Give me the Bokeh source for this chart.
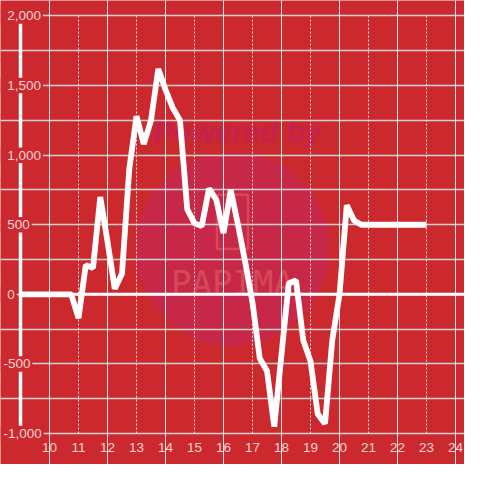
from bokeh.plotting import figure
from bokeh.models import Range1d, FixedTicker, Grid, LabelSet, ColumnDataSource
from bokeh.core.properties import value
from bokeh.embed import file_html
from bokeh.resources import INLINE

# ---- data ----
hours = [9.0, 10.75, 11.0, 11.25, 11.5, 11.75, 12.0, 12.25, 12.5, 12.75, 13.0, 13.25,
         13.5, 13.75, 14.0, 14.25, 14.5, 14.75, 15.0, 15.25, 15.5, 15.75, 16.0, 16.25,
         16.5, 16.75, 17.0, 17.25, 17.5, 17.75, 18.0, 18.25, 18.5, 18.75, 19.0, 19.25,
         19.5, 19.75, 20.0, 20.25, 20.5, 20.75, 23.0]
values = [0, 0, -170, 210, 190, 700, 380, 40, 150, 900, 1280, 1080,
          1250, 1620, 1470, 1340, 1250, 610, 510, 490, 760, 680, 440, 750,
          500, 230, -60, -460, -550, -950, -430, 80, 100, -330, -480, -860,
          -930, -330, 0, 640, 530, 500, 500]

x_ticks = list(range(10, 25))
x_labels = [str(t) for t in x_ticks]
y_grid_ticks = list(range(-1000, 2001, 250))
y_label_values = [-1000, -500, 0, 500, 1000, 1500, 2000]
y_labels = ["-1,000", "-500", "0", "500", "1,000", "1,500", "2,000"]

# ---- style ----
BG = "#cc292e"
LABEL = "#f3d3d4"
GRID = "#d2d2d2"
FONT = "Liberation Sans"
FS = 13.5
W = H = 464
S = W / 480.0
Y_MIN, Y_MAX = -1000, 2000          # extent of the plotting grid
AXIS_X = 9.0                          # where the y-axis line sits
X0 = 10 - 50.7 / 30.0
X1 = X0 + 480 / 30.0
PX_PER_UNIT = 432.0 / (Y_MAX - Y_MIN)
Y1 = Y_MAX + 16 / PX_PER_UNIT
Y0 = Y_MAX - 464 / PX_PER_UNIT

p = figure(width=W, height=H, output_backend="svg", toolbar_location=None,
           x_range=Range1d(X0, X1), y_range=Range1d(Y0, Y1),
           x_axis_location=None, y_axis_location=None,
           min_border=0)
p.background_fill_color = BG
p.border_fill_color = BG
p.outline_line_color = None

def px_x(px):
    return X0 + px / 30.0

def px_dy(dpx):
    return dpx / PX_PER_UNIT

def px_y(py):
    return Y_MAX - (py - 16) / PX_PER_UNIT

# watermark (below the grid)
p.scatter(x=[px_x(240)], y=[px_y(257)], size=200 * S, marker="circle",
          fill_color="#c82848", line_color=None, level="image")
p.text(x=[px_x(245)], y=[px_y(136)], text=["Powered by"], text_font=value(FONT),
       text_font_style="bold italic", text_font_size="30px", text_color="#c4214f",
       text_align="center", text_baseline="middle", level="image")
p.text(x=[px_x(240)], y=[px_y(292)], text=["PAPIMA"], text_font=value("DejaVu Sans Mono"),
       text_font_size="34px", text_color="#d44858", text_align="center",
       text_baseline="middle", level="image")
p.rect(x=[px_x(240)], y=[px_y(229)], width=32 * S, height=56 * S,
       width_units="screen", height_units="screen", fill_color=None,
       line_color="#d44858", line_width=2.5, level="image")

# grid
p.add_layout(Grid(dimension=1, ticker=FixedTicker(ticks=y_grid_ticks),
                  grid_line_color=GRID, grid_line_width=1.3))
p.segment(x0=x_ticks, y0=[Y_MIN] * len(x_ticks), x1=x_ticks, y1=[Y_MAX] * len(x_ticks),
          line_color="#e6e6e6", line_width=1, line_dash="2 2")

# y-axis line and zero line
p.segment(x0=[AXIS_X], y0=[Y_MIN], x1=[AXIS_X], y1=[Y_MAX], line_color="white", line_width=3.5)
p.segment(x0=[AXIS_X], y0=[0], x1=[X1], y1=[0], line_color="white", line_width=3)

# y label backgrounds (hide grid and axis line behind the labels)
CHAR_W = {"-": 0.333, ",": 0.278}
lx, rights, bots, tops = [], [], [], []
for val, txt in zip(y_label_values, y_labels):
    start = 3 if txt.startswith("-") else 7
    width = sum(CHAR_W.get(c, 0.556) for c in txt) * FS / S
    lx.append(px_x(start))
    rights.append(px_x(start + width + 2))
    bots.append(val - px_dy(8))
    tops.append(val + px_dy(8))
p.quad(left=[X0] * len(rights), right=rights, bottom=bots, top=tops,
       fill_color=BG, line_color=None)

# data
p.line(hours, values, line_color="white", line_width=5.8, line_join="bevel")

# y labels
ysrc = ColumnDataSource(dict(x=lx, y=y_label_values, text=y_labels))
p.add_layout(LabelSet(x="x", y="y", text="text", source=ysrc, text_align="left",
                      text_baseline="middle", text_font=value(FONT),
                      text_font_size=f"{FS}px", text_color=LABEL))

# x labels
xsrc = ColumnDataSource(dict(x=x_ticks, y=[px_y(462)] * len(x_ticks), text=x_labels))
p.add_layout(LabelSet(x="x", y="y", text="text", source=xsrc, text_align="center",
                      text_baseline="middle", text_font=value(FONT),
                      text_font_size=f"{FS}px", text_color=LABEL))

open("out.html", "w").write(file_html(p, INLINE))
